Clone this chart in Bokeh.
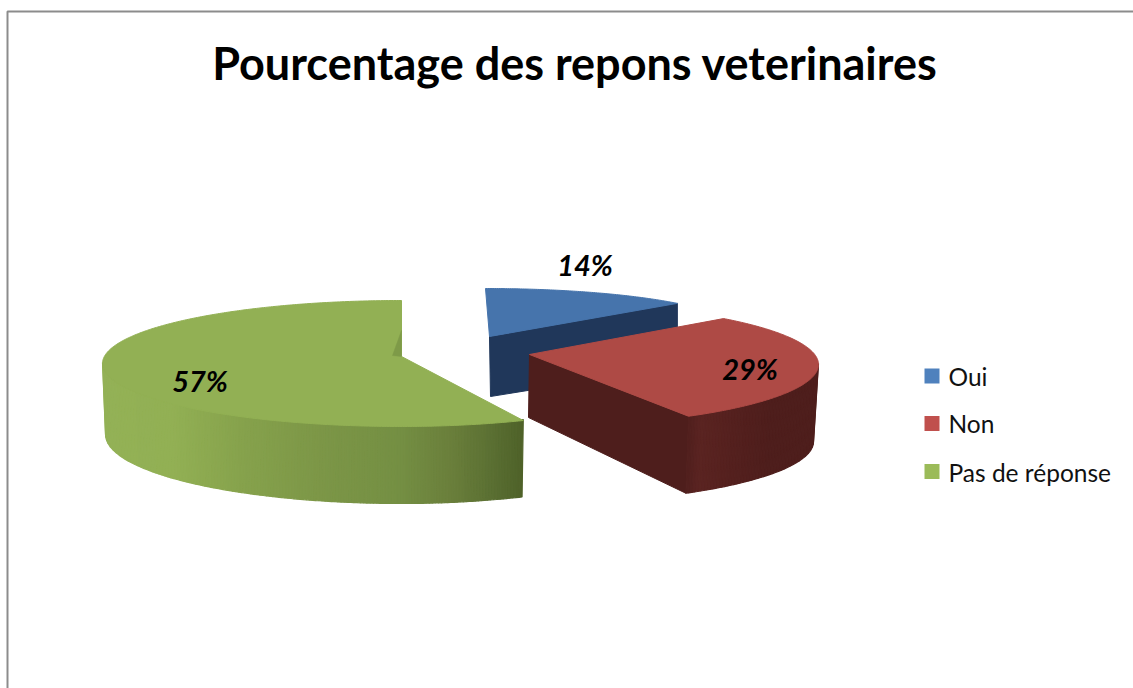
import math
from bokeh.plotting import figure
from bokeh.models import Range1d
from bokeh.core.properties import value
from bokeh.embed import file_html
from bokeh.resources import INLINE

# ---- data ----
categories = ["Oui", "Non", "Pas de réponse"]
percentages = [14, 29, 57]
title_text = "Pourcentage des repons veterinaires"

# ---- style / layout ----
legend_colors = ["#4F81BD", "#C0504D", "#9BBB59"]
top_colors = ["#4674AC", "#AE4A45", "#92B054"]
face_colors = ["#20375A", "#4E1E1C", "#4E6128"]
FONT = "Lato"
W, H = 1133, 688

# geometry of each exploded slice, in picture pixels
geo = [
    dict(cx=485, cy=329, rx=249, rxl=249, ry=41, rot=0.0, apex=(489, 336),
         apex_depth=60, d0=63, d1=0, bs=1.0),
    dict(cx=529, cy=364, rx=289, rxl=289, ry=62, rot=42.2, apex=(529, 354),
         apex_depth=63, d0=77, d1=0, bs=0.983),
    dict(cx=401, cy=363, rx=286, rxl=299, ry=63, rot=154.8, apex=(401, 356),
         apex_depth=63, d0=71, d1=6, bs=0.99),
]
total = sum(percentages)
sweeps = [360.0 * v / total for v in percentages]


def rim(g, deg):
    t = math.radians(deg)
    s, c = math.sin(t), math.cos(t)
    return g["cx"] + (g["rx"] if s > 0 else g["rxl"]) * s, g["cy"] - g["ry"] * c


def rim_low(g, deg):
    t = math.radians(deg)
    s, c = math.sin(t), math.cos(t)
    x = g["cx"] + (g["rx"] if s > 0 else g["rxl"]) * s * g["bs"]
    y = g["cy"] - g["ry"] * c + g["d0"] + g["d1"] * max(0.0, -c)
    return x, y


def hexmix(stops, x):
    def rgb(h):
        return tuple(int(h[i:i + 2], 16) for i in (1, 3, 5))
    if x <= stops[0][0]:
        return stops[0][1]
    for (x0, c0), (x1, c1) in zip(stops, stops[1:]):
        if x <= x1:
            f = (x - x0) / (x1 - x0)
            a, b = rgb(c0), rgb(c1)
            return "#%02x%02x%02x" % tuple(round(a[i] + (b[i] - a[i]) * f) for i in range(3))
    return stops[-1][1]


red_stops = [(529, "#4E1E1C"), (684, "#4E1E1C"), (700, "#5A2421"), (735, "#54201E"), (770, "#4E1E1C")]
green_stops = [(100, "#93B156"), (170, "#92B054"), (240, "#86A24C"), (320, "#7C9647"),
               (400, "#748F43"), (450, "#6A7F3B"), (490, "#5B7033"), (523, "#4E6128")]

p = figure(width=W, height=H, x_range=Range1d(0, W), y_range=Range1d(H, 0),
           output_backend="svg", toolbar_location=None, min_border=0)
p.xaxis.visible = False
p.yaxis.visible = False
p.xgrid.visible = False
p.ygrid.visible = False
p.outline_line_color = None
p.background_fill_color = "white"
p.border_fill_color = "white"

# chart area frame
p.line([7, 7, W], [H, 11, 11], line_color="#8C8C8C", line_width=2)


def draw_slice(i, start):
    g = geo[i]
    end = start + sweeps[i]
    ax, ay = g["apex"]
    if i == 0:  # cut face on the right of the blue slice
        ex, ey = rim(g, end)
        lx, ly = rim_low(g, end)
        p.patch([ax, ex, lx, ax + 1], [ay, ey, ly, ay + g["apex_depth"]],
                fill_color=face_colors[i], line_color=face_colors[i], line_width=1)
    if i == 1:  # cut face on the lower left of the red slice
        ex, ey = rim(g, end)
        lx, ly = rim_low(g, end)
        p.patch([ax, ex, lx, ax - 1], [ay, ey, ly, ay + g["apex_depth"]],
                fill_color=face_colors[i], line_color=face_colors[i], line_width=1)
    # curved outer wall, as strips a few pixels wide
    if i > 0:
        stops = red_stops if i == 1 else green_stops
        lo, hi = (90.0, end) if i == 1 else (start, 270.0)
        fine = [lo + (hi - lo) * k / 2000 for k in range(2001)]
        keep = [fine[0]]
        for a in fine[1:]:
            (x0, y0), (x1, y1) = rim(g, keep[-1]), rim(g, a)
            if abs(x1 - x0) >= 3 or abs(y1 - y0) >= 3:
                keep.append(a)
        if keep[-1] != fine[-1]:
            keep.append(fine[-1])
        xs, ys, cols = [], [], []
        for a, b in zip(keep, keep[1:]):
            (x1, y1), (x2, y2) = rim(g, a), rim(g, b)
            (x3, y3), (x4, y4) = rim_low(g, b), rim_low(g, a)
            xs.append([x1, x2, x3, x4])
            ys.append([y1 - 1, y2 - 1, y3, y4])
            cols.append(hexmix(stops, (x1 + x2) / 2))
        p.patches(xs, ys, fill_color=cols, line_color=cols, line_width=1.2)
    # top surface
    m = max(int(sweeps[i] * 2), 2)
    arc = [rim(g, start + sweeps[i] * k / m) for k in range(m + 1)]
    p.patch([ax] + [q[0] for q in arc], [ay] + [q[1] for q in arc],
            fill_color=top_colors[i], line_color=top_colors[i], line_width=1)
    if i == 2:  # small inner sliver at the green centre
        p.patch([ax, ax - 9, ax], [ay - 26, ay - 1, ay],
                fill_color="#7E9A48", line_color="#7E9A48", line_width=0.5)


draw_slice(0, geo[0]["rot"])
draw_slice(2, geo[2]["rot"])
draw_slice(1, geo[1]["rot"])

# title
p.text([574.5], [62], text=[title_text], text_font=value(FONT), text_font_style="bold",
       text_font_size="45px", text_color="black", text_align="center", text_baseline="middle")

# percentage labels
label_x = [584.5, 749.5, 199.5]
label_y = [263.5, 367.5, 379.5]
p.text(label_x, label_y, text=[f"{v}%" for v in percentages], text_font=value(FONT),
       text_font_style="bold italic", text_font_size="29px", text_color="black",
       text_align="center", text_baseline="middle")

# legend
legend_y = [375.5, 423, 471]
p.rect([931.5] * 3, legend_y, width=15, height=15, fill_color=legend_colors, line_color=None)
p.text([948] * 3, [376, 423, 471.5], text=categories, text_font=value(FONT),
       text_font_size="24.5px", text_color="#111111", text_align="left", text_baseline="middle")

open("out.html", "w").write(file_html(p, INLINE))
